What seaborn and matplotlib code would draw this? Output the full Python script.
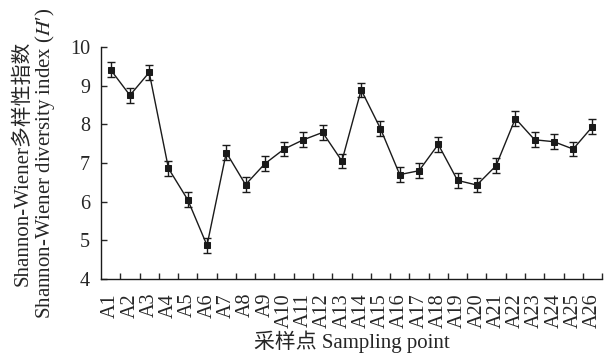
import matplotlib
matplotlib.use("Agg")
import matplotlib.pyplot as plt
import seaborn as sns
import pandas as pd
import numpy as np

# Data
points = ["A" + str(i) for i in range(1, 27)]
shannon = [9.41, 8.75, 9.34, 6.86, 6.05, 4.87, 7.27, 6.44, 6.98, 7.36,
           7.60, 7.79, 7.05, 8.89, 7.89, 6.70, 6.80, 7.48, 6.55, 6.43,
           6.93, 8.15, 7.60, 7.55, 7.36, 7.94]
errors = [0.19, 0.19, 0.19, 0.19, 0.20, 0.20, 0.19, 0.19, 0.19, 0.19,
          0.19, 0.19, 0.19, 0.19, 0.19, 0.19, 0.19, 0.19, 0.19, 0.19,
          0.19, 0.19, 0.19, 0.19, 0.19, 0.19]

df = pd.DataFrame({"point": points, "H": shannon, "err": errors})

sns.set_style("ticks")
plt.rcParams["font.family"] = ["Liberation Serif", "Noto Sans CJK SC"]
plt.rcParams["mathtext.fontset"] = "stix"

fig = plt.figure(figsize=(6.1, 3.61), dpi=100)
ax = fig.add_axes([0.1656, 0.227, 0.8214, 0.643])

# error bars
ax.errorbar(x=np.arange(len(df)), y=df["H"], yerr=df["err"], fmt="none",
            ecolor="#1a1a1a", elinewidth=1.0, capsize=2.6, capthick=1.0, zorder=2)

# line with square markers
sns.lineplot(data=df, x="point", y="H", ax=ax, color="#1a1a1a", linewidth=1.0,
             marker="s", markersize=5, markeredgecolor="#1a1a1a",
             markerfacecolor="#1a1a1a", sort=False, zorder=3)

ax.set_xlim(-0.5, len(df) - 0.5)
ax.set_ylim(4, 10)
ax.set_yticks([4, 5, 6, 7, 8, 9, 10])

# category labels centred, tick marks at the boundaries
ax.set_xticks(np.arange(len(df)))
ax.set_xticklabels(points, rotation=90)
ax.set_xticks(np.arange(len(df)) + 0.5, minor=True)
ax.tick_params(axis="x", which="major", length=0, pad=10, labelsize=14.5)
ax.tick_params(axis="x", which="minor", direction="in", length=4, width=1)
ax.tick_params(axis="y", direction="in", length=4.5, width=1, labelsize=14.5, pad=8)

for s in ["top", "right"]:
    ax.spines[s].set_visible(False)
for s in ["left", "bottom"]:
    ax.spines[s].set_linewidth(1.0)
    ax.spines[s].set_color("#1a1a1a")

ax.set_xlabel("采样点 Sampling point", fontsize=15, labelpad=2)
ax.set_ylabel("Shannon-Wiener多样性指数\nShannon-Wiener diversity index ($\\mathit{H}$′)",
              fontsize=15, labelpad=9, linespacing=1.05)

fig.savefig("out.png", dpi=100)
